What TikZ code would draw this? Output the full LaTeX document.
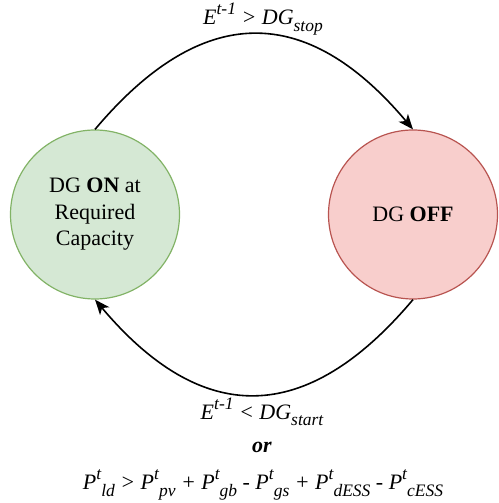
\documentclass[tikz,border=0pt]{standalone}
\usepackage{fontspec}
\setmainfont{Liberation Serif}
\usetikzlibrary{arrows.meta}
\definecolor{onfill}{HTML}{D5E8D4}
\definecolor{ondraw}{HTML}{82B366}
\definecolor{offfill}{HTML}{F8CECC}
\definecolor{offdraw}{HTML}{B85450}
\newcommand{\hsup}[1]{\raisebox{0.45em}{\fontsize{17.5}{17.5}\selectfont #1}}
\newcommand{\hsub}[1]{\raisebox{-0.3em}{\fontsize{17.5}{17.5}\selectfont #1}}

\begin{document}
\begin{tikzpicture}[x=1pt,y=1pt]
\tikzstyle{every node}=[font=\fontsize{22}{26.5}\selectfont,align=center,inner sep=0pt];
\tikzstyle{state}=[draw,shape=circle,minimum size=169pt,line width=1.2pt];
\tikzstyle{trans}=[line width=1.6pt,-{Stealth[length=15pt,width=12pt,inset=4pt]}];
\useasboundingbox (0,0) rectangle (498,503);
\node[state,fill=onfill,draw=ondraw] (on) at (95,288.5) {DG \textbf{ON} at\\Required\\Capacity};
\node[state,fill=offfill,draw=offdraw] (off) at (413,288.5) {DG \textbf{OFF}};
% switching conditions
\draw[trans] (on.north) .. controls +(107,127) and +(-107,127) .. (off.north);
\draw[trans] (off.south) .. controls +(-107,-127) and +(107,-127) .. (on.south);
\node (stop) at (263,484) {\itshape E\hsup{t-1} > DG\hsub{stop}};
\node (start) at (262,91) {\itshape E\hsup{t-1} < DG\hsub{start}};
\node (or) at (262,56) {\bfseries\itshape or};
\node (load) at (263,18) {\itshape P\hsup{t}\hsub{ld} > P\hsup{t}\hsub{pv} + P\hsup{t}\hsub{gb} - P\hsup{t}\hsub{gs} + P\hsup{t}\hsub{dESS} - P\hsup{t}\hsub{cESS}};
\end{tikzpicture}
\end{document}
